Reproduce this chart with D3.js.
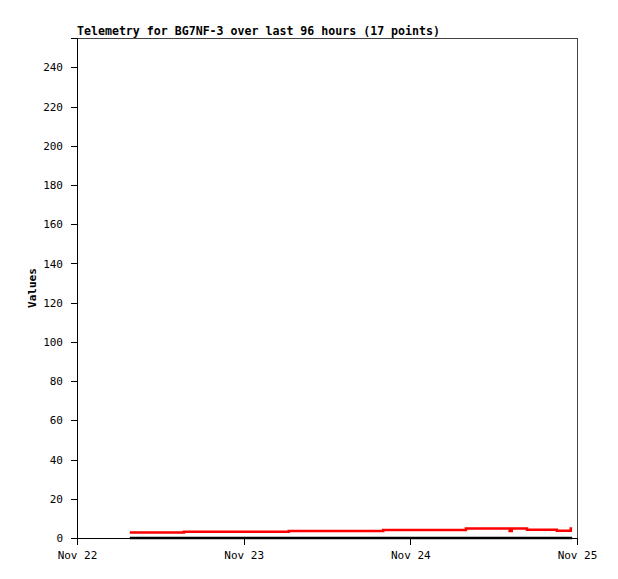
<!DOCTYPE html>
<meta charset="utf-8">
<script src="https://d3js.org/d3.v7.min.js"></script>
<style>
  body { margin: 0; background: #fff; }
  text { font-family: "DejaVu Sans Mono", "Liberation Mono", monospace; }
</style>
<div id="chart"></div>
<script>
// telemetry samples: hours after Nov 22 00:00
var hours = [7.6, 11.5, 15.4, 22.0, 30.5, 37.0, 44.1, 50.0, 56.0, 62.3, 62.6, 64.8, 67.0, 69.1, 70.2, 71.1, 71.3];
var chan1 = [2.8, 2.8, 3.2, 3.2, 3.6, 3.6, 4.1, 4.1, 4.85, 3.6, 4.85, 4.2, 4.2, 3.7, 3.7, 4.85, 4.85];
var chan2 = [0, 0, 0, 0, 0, 0, 0, 0, 0, 0, 0, 0, 0, 0, 0, 0, 0];
var yTicks = [0, 20, 40, 60, 80, 100, 120, 140, 160, 180, 200, 220, 240];
var dayLabels = ["Nov 22", "Nov 23", "Nov 24", "Nov 25"];

var margin = {top: 38, right: 41, bottom: 41, left: 77},
    width = 618 - margin.left - margin.right,
    height = 579 - margin.top - margin.bottom;

var svg = d3.select("#chart")
  .append("svg")
    .attr("width", 618)
    .attr("height", 579)
  .append("g")
    .attr("transform", "translate(" + margin.left + "," + margin.top + ")");

var start = new Date(2024, 10, 22);
var x = d3.scaleTime()
    .domain([start, d3.timeDay.offset(start, 3)])
    .range([0, width]);
var y = d3.scaleLinear()
    .domain([0, 255])
    .range([height, 0]);

// frame
svg.append("rect")
    .attr("x", 0).attr("y", 0)
    .attr("width", width).attr("height", height)
    .attr("fill", "none")
    .attr("stroke", "#444")
    .attr("shape-rendering", "crispEdges");

// axes
var yAxis = svg.append("g")
    .call(d3.axisLeft(y).tickValues(yTicks).tickSize(6).tickPadding(8));
var xAxis = svg.append("g")
    .attr("transform", "translate(0," + height + ")")
    .call(d3.axisBottom(x).ticks(d3.timeDay.every(1)).tickSize(7).tickPadding(6)
      .tickFormat(function(d, i) { return dayLabels[i]; }));
[xAxis, yAxis].forEach(function(a) {
  a.select(".domain").attr("stroke", "#000");
  a.selectAll("line").attr("stroke", "#000").attr("shape-rendering", "crispEdges");
  a.selectAll("text").attr("font-size", 11).attr("fill", "#000")
    .attr("font-family", "DejaVu Sans Mono");
});

var pts = hours.map(function(h, i) {
  return {t: d3.timeMinute.offset(start, Math.round(h * 60)), a: chan1[i], b: chan2[i]};
});

var lineA = d3.line().curve(d3.curveStepAfter)
    .x(function(d) { return x(d.t); })
    .y(function(d) { return y(d.a); });
var lineB = d3.line().curve(d3.curveStepAfter)
    .x(function(d) { return x(d.t); })
    .y(function(d) { return y(d.b); });

svg.append("path").datum(pts)
    .attr("d", lineB)
    .attr("fill", "none").attr("stroke", "#000").attr("stroke-width", 2.5);
svg.append("path").datum(pts)
    .attr("d", lineA)
    .attr("fill", "none").attr("stroke", "#ff0000").attr("stroke-width", 2.5);

// title
svg.append("text")
    .attr("x", 0).attr("y", -3)
    .attr("font-size", 11.6).attr("font-weight", "bold")
    .text("Telemetry for BG7NF-3 over last 96 hours (17 points)");

// y label
svg.append("text")
    .attr("transform", "translate(" + (-41) + "," + (height / 2) + ") rotate(-90)")
    .attr("text-anchor", "middle")
    .attr("font-size", 11).attr("font-weight", "bold")
    .text("Values");
</script>
